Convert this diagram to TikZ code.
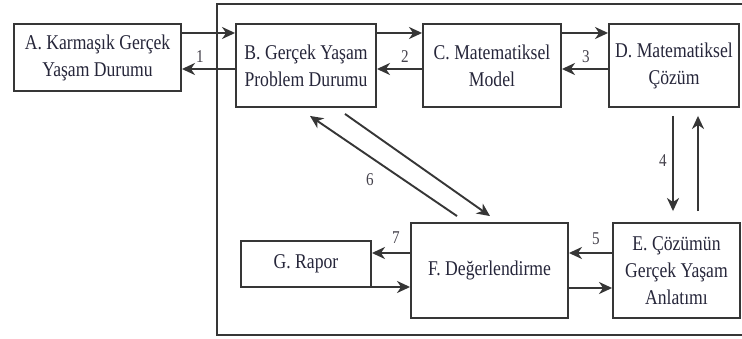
\documentclass[tikz,border=0pt]{standalone}
\usepackage{fontspec}
\setmainfont{Liberation Serif}[FakeStretch=0.84]
\usetikzlibrary{arrows.meta,calc}
\definecolor{linecol}{HTML}{363636}
\definecolor{textcol}{HTML}{26263A}
\definecolor{numcol}{HTML}{45424C}
\begin{document}
\begin{tikzpicture}[x=1pt,y=-1pt,
  box/.style={draw=linecol,line width=1.9pt,rectangle,inner sep=0pt,align=center,
    text=textcol,font=\fontsize{21}{27}\selectfont},
  arr/.style={draw=linecol,line width=1.9pt,-{Stealth[length=13pt,width=12pt,inset=4pt]}},
  num/.style={text=numcol,font=\fontsize{18}{18}\selectfont,inner sep=0pt}]
\useasboundingbox (0,0) rectangle (742,339);
\fill[white] (0,0) rectangle (742,339);

% surrounding frame, open on the right
\draw[linecol,line width=1.9pt] (742,4) -- (217,4) -- (217,335) -- (742,335);

% stages
\node[box,minimum width=167pt,minimum height=67pt] (A) at (97.5,57.5) {A. Karmaşık Gerçek\\Yaşam Durumu};
\node[box,minimum width=140pt,minimum height=83pt] (B) at (306,65.5) {B. Gerçek Yaşam\\Problem Durumu};
\node[box,minimum width=138pt,minimum height=83pt] (C) at (492,65.5) {C. Matematiksel\\Model};
\node[box,minimum width=130pt,minimum height=83pt] (D) at (674,65.5) {D. Matematiksel\\Çözüm};
\node[box,minimum width=127pt,minimum height=95pt] (E) at (676.5,270.5) {E. Çözümün\\Gerçek Yaşam\\Anlatımı};
\node[box,minimum width=157pt,minimum height=95pt] (F) at (489.5,270.5) {F. Değerlendirme};
\node[box,minimum width=130pt,minimum height=46pt] (G) at (306,264) {G. Rapor};

% forward and return arrows along the top row
\draw[arr] ([yshift=24.5pt]A.east) -- ([yshift=32.5pt]B.west);
\draw[arr] ([yshift=-3.5pt]B.west) -- ([yshift=-11.5pt]A.east);
\draw[arr] ([yshift=32.5pt]B.east) -- ([yshift=32.5pt]C.west);
\draw[arr] ([yshift=-3.5pt]C.west) -- ([yshift=-3.5pt]B.east);
\draw[arr] ([yshift=32.5pt]C.east) -- ([yshift=32.5pt]D.west);
\draw[arr] ([yshift=-3.5pt]D.west) -- ([yshift=-3.5pt]C.east);

% between the solution and its interpretation
\draw[arr,shorten <=8pt,shorten >=11pt] ([xshift=-1pt]D.south) -- ([xshift=-3.5pt]E.north);
\draw[arr,shorten <=11pt,shorten >=8pt] ([xshift=21.5pt]E.north) -- ([xshift=24pt]D.south);

% bottom row
\draw[arr] ([yshift=17.5pt]E.west) -- ([yshift=17.5pt]F.east);
\draw[arr] ([yshift=-17.5pt]F.east) -- ([yshift=-17.5pt]E.west);
\draw[arr] ([yshift=17.5pt]F.west) -- ([yshift=11pt]G.east);
\draw[arr] ([yshift=-23pt]G.east) -- ([yshift=-16.5pt]F.west);

% evaluation loop back to the problem situation
\draw[arr] ($(F.north)+(-32.5,-6)$) -- ($(B.south)+(4,8)$);
\draw[arr] ($(B.south)+(39,6)$) -- ($(F.north)+(0.5,-6)$);

% step numbers
\node[num] (n1) at (200,57) {1};
\node[num] (n2) at (405,57) {2};
\node[num] (n3) at (586,57) {3};
\node[num] (n4) at (663,161) {4};
\node[num] (n5) at (596,239) {5};
\node[num] (n6) at (370,180) {6};
\node[num] (n7) at (396,238) {7};
\end{tikzpicture}
\end{document}
